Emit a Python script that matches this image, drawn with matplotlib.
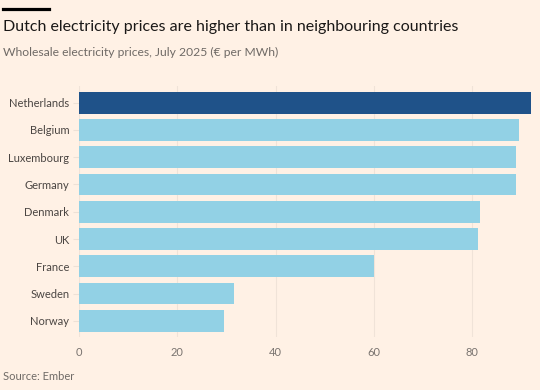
import matplotlib
matplotlib.use("Agg")
import matplotlib.pyplot as plt
from matplotlib.lines import Line2D

countries = ["Netherlands", "Belgium", "Luxembourg", "Germany", "Denmark", "UK", "France", "Sweden", "Norway"]
prices = [91.9, 89.5, 89.0, 89.0, 81.6, 81.2, 60.1, 31.6, 29.5]
xticks = [0, 20, 40, 60, 80]

BG = "#fff1e5"
DARK = "#1f5289"
LIGHT = "#92d1e5"
GREY = "#66605c"

plt.rcParams['font.family'] = ['Lato', 'DejaVu Sans']

fig = plt.figure(figsize=(5.4, 3.9), dpi=100, facecolor=BG)
W, H = 540, 390
ax = fig.add_axes([79 / W, 1 - 337.2 / H, (531 - 79) / W, (337.2 - 86.3) / H])
ax.set_facecolor(BG)

colors = [DARK if c == "Netherlands" else LIGHT for c in countries]
y = list(range(len(countries)))
ax.barh(y, prices, height=0.8, color=colors, zorder=2)
ax.set_ylim(8.6, -0.6)
ax.set_xlim(0, 92)
ax.set_yticks(y)
ax.set_yticklabels(countries, fontsize=8.0, color="#4a4542")
ax.set_xticks(xticks)
ax.set_xticklabels([str(t) for t in xticks], fontsize=8.0, color="#7a7470")
ax.tick_params(axis='y', length=4, color="#ede1d6", pad=3)
ax.tick_params(axis='x', length=0, pad=7)
ax.grid(axis='x', color="#f0e3d8", linewidth=0.8, zorder=0)
for s in ax.spines.values():
    s.set_visible(False)

fig.add_artist(Line2D([3 / W, 49 / W], [1 - 9 / H, 1 - 9 / H], color="black", linewidth=2.3))
fig.text(3 / W, 1 - 27 / H, "Dutch electricity prices are higher than in neighbouring countries",
         fontsize=11.5, color="#1a1817", va="center", ha="left")
fig.text(3 / W, 1 - 52 / H, "Wholesale electricity prices, July 2025 (€ per MWh)",
         fontsize=8.7, color="#6f6a66", va="center", ha="left")
fig.text(3 / W, 1 - 376 / H, "Source: Ember", fontsize=8.0, color="#6f6a66", va="center", ha="left")

fig.savefig("out.png", dpi=100, facecolor=BG)
